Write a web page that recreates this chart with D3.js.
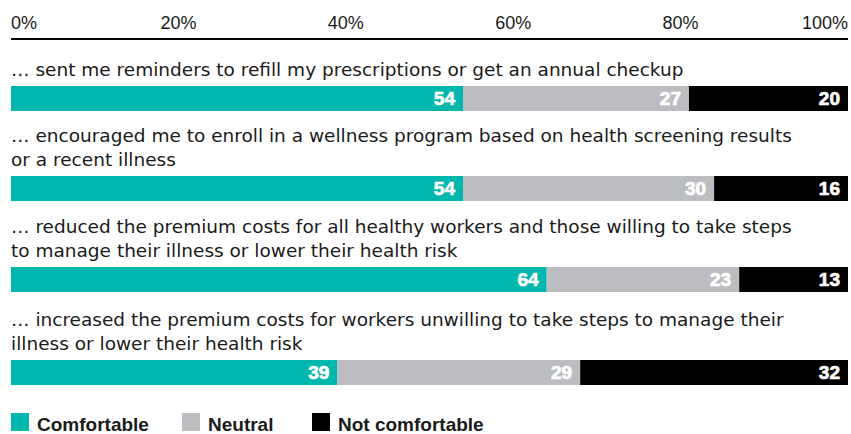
<!DOCTYPE html>
<html>
<head>
<meta charset="utf-8">
<script src="https://cdn.jsdelivr.net/npm/d3@7"></script>
<style>
  body { margin: 0; background: #fff; }
  svg { display: block; font-family: "Liberation Sans", Arial, sans-serif; }
</style>
</head>
<body>
<svg id="chart" width="851" height="434"></svg>
<script>
// question wording, one array per wrapped line
let questions = [
  ["… sent me reminders to refill my prescriptions or get an annual checkup"],
  ["… encouraged me to enroll in a wellness program based on health screening results",
   "or a recent illness"],
  ["… reduced the premium costs for all healthy workers and those willing to take steps",
   "to manage their illness or lower their health risk"],
  ["… increased the premium costs for workers unwilling to take steps to manage their",
   "illness or lower their health risk"]
];

let seriesNames = ["Comfortable", "Neutral", "Not comfortable"];
let comfortable = [54, 54, 64, 39];
let neutral = [27, 30, 23, 29];
let notComfortable = [20, 16, 13, 32];
let tickValues = [0, 20, 40, 60, 80, 100];

let colors = ["#00b7ad", "#bcbdc0", "#000000"];

let svg = d3.select('#chart');

let x = d3.scaleLinear().domain([0, 100]).range([11, 848]).clamp(true);

// axis on top
let axisG = svg.append('g').attr('transform', 'translate(0,39)');
axisG.append('line')
  .attr('x1', x(0)).attr('x2', x(100))
  .attr('stroke', '#000').attr('stroke-width', 2);
axisG.selectAll('text.tick')
  .data(tickValues)
  .enter()
  .append('text')
  .attr('class', 'tick')
  .attr('x', d => x(d))
  .attr('y', -10)
  .attr('text-anchor', d => d === 0 ? 'start' : (d === 100 ? 'end' : 'middle'))
  .attr('font-size', 18)
  .attr('fill', '#1a1a1a')
  .text(d => d + '%');

// vertical layout of each row (bar top)
let barTops = [86, 176, 267, 360];
let barH = 25;
let lineH = 24;

let rows = questions.map((q, i) => {
  let vals = [comfortable[i], neutral[i], notComfortable[i]];
  let start = 0;
  let segs = vals.map((v, k) => {
    let s = {x0: start, x1: start + v, v: v, k: k};
    start += v;
    return s;
  });
  return {lines: q, segs: segs, top: barTops[i]};
});

let rowG = svg.selectAll('g.row')
  .data(rows)
  .enter()
  .append('g')
  .attr('class', 'row');

rowG.each(function(row) {
  let g = d3.select(this);
  let n = row.lines.length;
  g.selectAll('text.q')
    .data(row.lines)
    .enter()
    .append('text')
    .attr('class', 'q')
    .attr('x', 11)
    .attr('y', (d, j) => row.top - 10 - (n - 1 - j) * lineH)
    .attr('font-family', '"DejaVu Sans", sans-serif')
    .attr('font-size', 18.5)
    .attr('fill', '#1a1a1a')
    .text(d => d);

  g.selectAll('rect')
    .data(row.segs)
    .enter()
    .append('rect')
    .attr('x', d => x(d.x0))
    .attr('width', d => x(d.x1) - x(d.x0))
    .attr('y', row.top)
    .attr('height', barH)
    .attr('fill', d => colors[d.k]);

  g.selectAll('text.val')
    .data(row.segs)
    .enter()
    .append('text')
    .attr('class', 'val')
    .attr('x', d => x(d.x1) - 8)
    .attr('y', row.top + 19)
    .attr('text-anchor', 'end')
    .attr('font-size', 19)
    .attr('font-weight', 'bold')
    .attr('fill', '#fff')
    .attr('stroke', '#fff')
    .attr('stroke-width', 0.7)
    .text(d => d.v);
});

// legend
let legendX = [11, 182, 312];
let legend = svg.selectAll('g.legend')
  .data(seriesNames)
  .enter()
  .append('g')
  .attr('class', 'legend')
  .attr('transform', (d, i) => 'translate(' + legendX[i] + ',413)');
legend.append('rect')
  .attr('width', 18).attr('height', 18)
  .attr('fill', (d, i) => colors[i]);
legend.append('text')
  .attr('x', 26)
  .attr('y', 18)
  .attr('font-size', 19)
  .attr('font-weight', 'bold')
  .attr('fill', '#1a1a1a')
  .text(d => d);
</script>
</body>
</html>
